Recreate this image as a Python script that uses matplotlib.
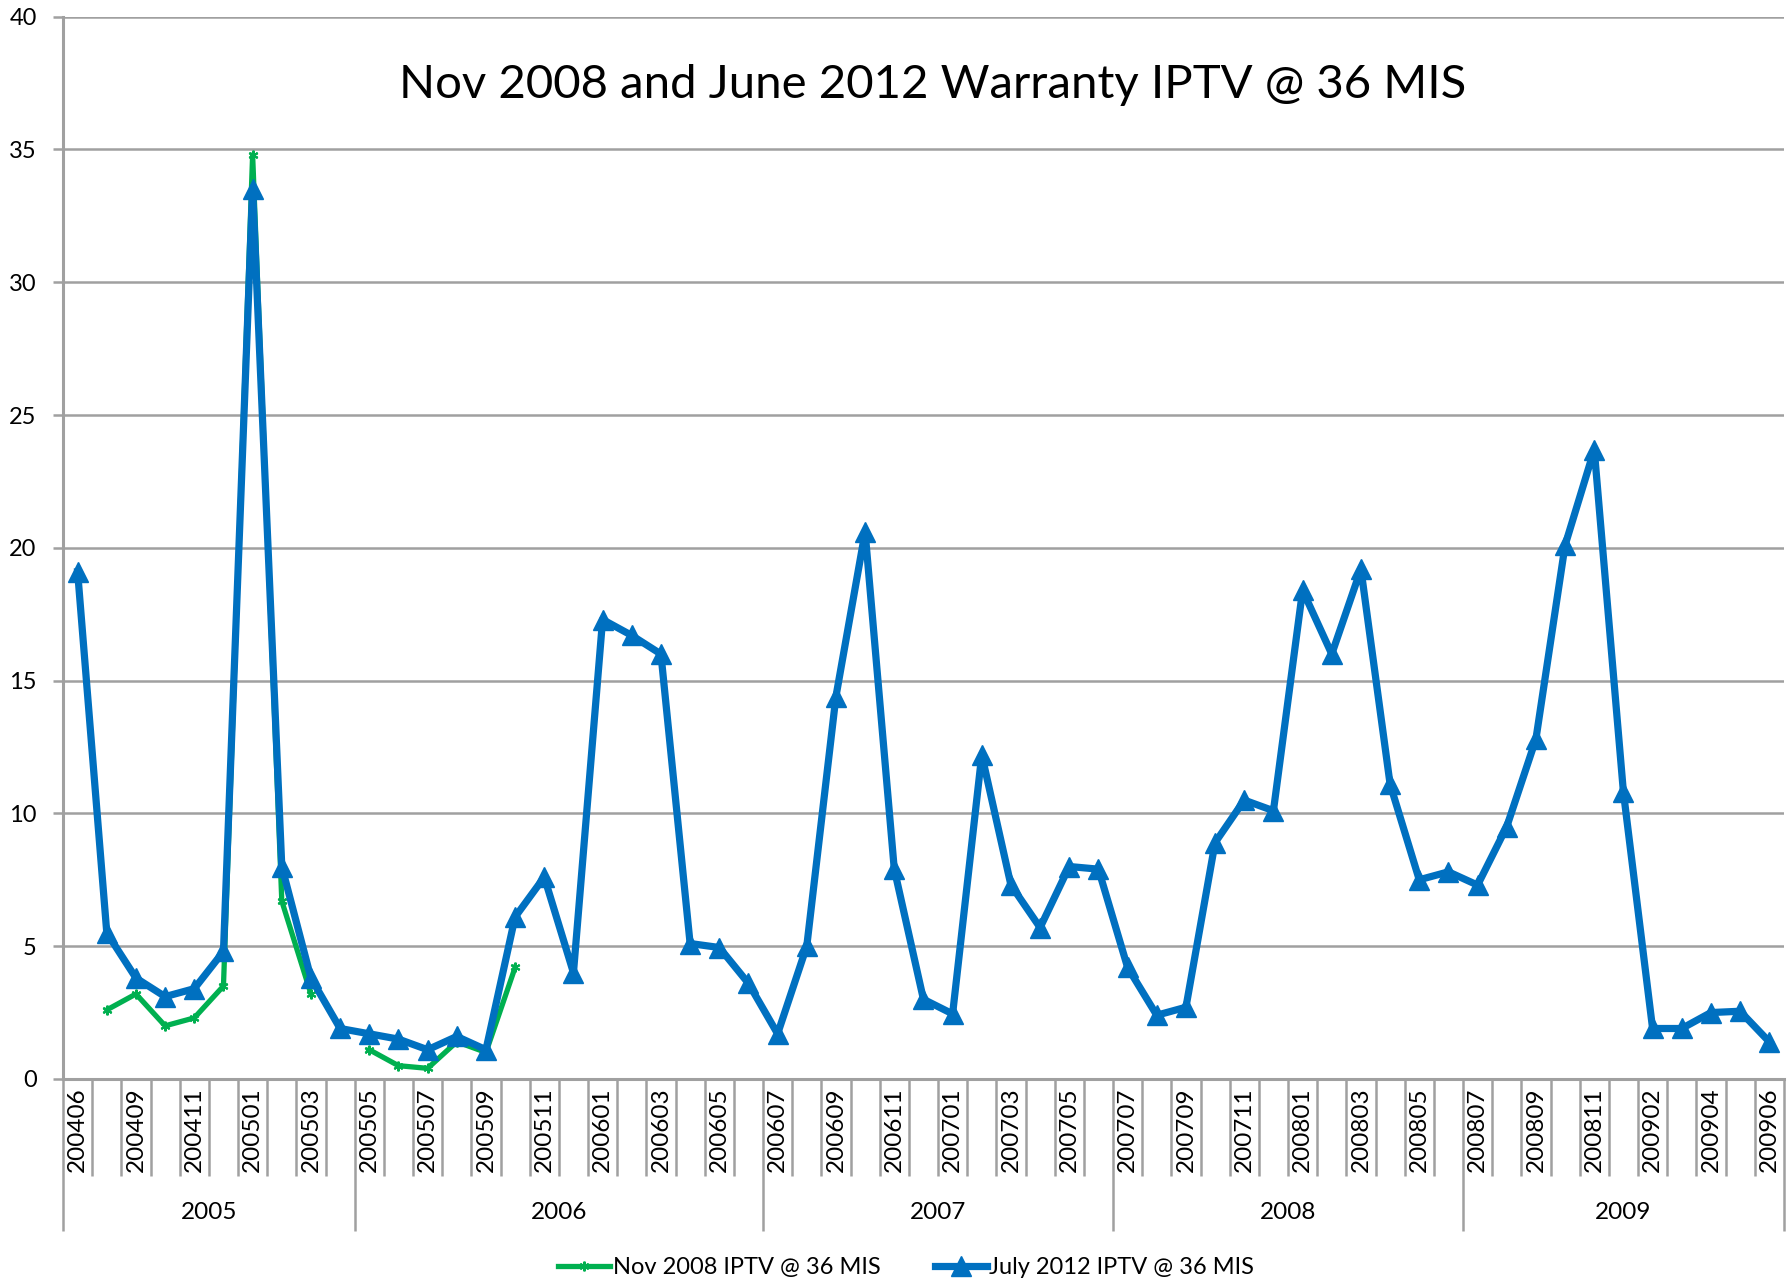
import numpy as np
import matplotlib
matplotlib.use("Agg")
import matplotlib.pyplot as plt
from matplotlib.transforms import blended_transform_factory

plt.rcParams["font.family"] = ["Lato", "DejaVu Sans"]

# ---------------------------------------------------------------------------
# Data
# ---------------------------------------------------------------------------
months = [
    "200406", "200408", "200409", "200410", "200411", "200412",
    "200501", "200502", "200503", "200504", "200505", "200506",
    "200507", "200508", "200509", "200510", "200511", "200512",
    "200601", "200602", "200603", "200604", "200605", "200606",
    "200607", "200608", "200609", "200610", "200611", "200612",
    "200701", "200702", "200703", "200704", "200705", "200706",
    "200707", "200708", "200709", "200710", "200711", "200712",
    "200801", "200802", "200803", "200804", "200805", "200806",
    "200807", "200808", "200809", "200810", "200811", "200901",
    "200902", "200903", "200904", "200905", "200906",
]
# only every other month is printed on the axis
shown_labels = [m if i % 2 == 0 else "" for i, m in enumerate(months)]

# fiscal-year groups under the month labels (number of months in each)
year_groups = ["2005", "2006", "2007", "2008", "2009"]
year_sizes = [10, 14, 12, 12, 11]

july2012 = [
    19.1, 5.5, 3.8, 3.1, 3.4, 4.8, 33.5, 8.0, 3.8, 1.9,
    1.7, 1.5, 1.1, 1.6, 1.1, 6.1, 7.6, 4.0, 17.3, 16.7,
    16.0, 5.1, 4.95, 3.6, 1.7, 5.0, 14.4, 20.6, 7.9, 3.0,
    2.45, 12.2, 7.3, 5.7, 8.0, 7.9, 4.2, 2.4, 2.7, 8.9,
    10.5, 10.1, 18.4, 16.0, 19.2, 11.1, 7.5, 7.8, 7.3, 9.5,
    12.8, 20.1, 23.7, 10.8, 1.9, 1.9, 2.5, 2.55, 1.4,
]
nan = np.nan
nov2008 = [
    nan, 2.6, 3.2, 2.0, 2.3, 3.5, 34.8, 6.7, 3.2, nan,
    1.1, 0.5, 0.4, 1.4, 1.0, 4.2,
] + [nan] * (len(months) - 16)

title = "Nov 2008 and June 2012 Warranty IPTV @ 36 MIS"
green_label = "Nov 2008 IPTV @ 36 MIS"
blue_label = "July 2012 IPTV @ 36 MIS"

GREEN = "#00B050"
BLUE = "#0070C0"
GRID = "#A0A0A0"

# ---------------------------------------------------------------------------
# Plot
# ---------------------------------------------------------------------------
fig = plt.figure(figsize=(17.91, 12.86), dpi=100)
ax = fig.add_axes([0.0352, 0.161, 0.9608, 0.826])

x = np.arange(len(months))
ax.plot(x, nov2008, color=GREEN, lw=3.8, marker=(6, 2, 0), ms=7, mew=1.5,
        label=green_label, zorder=3)
ax.plot(x, july2012, color=BLUE, lw=5.2, marker="^", ms=15,
        label=blue_label, zorder=4)

ax.set_xlim(-0.5, len(months) - 0.5)
ax.set_ylim(0, 40)
ax.set_yticks(np.arange(0, 41, 5))
ax.yaxis.grid(True, color=GRID, lw=1.8)
ax.set_axisbelow(True)

for side in ("top", "right"):
    ax.spines[side].set_visible(False)
for side in ("left", "bottom"):
    ax.spines[side].set_color(GRID)
    ax.spines[side].set_linewidth(2.2)

ax.tick_params(axis="y", direction="out", length=7, width=1.8, color=GRID,
               pad=12, labelsize=17)

# month labels at category centres, tick lines between categories
ax.set_xticks(x)
ax.set_xticklabels(shown_labels, rotation=90, fontsize=17.5)
ax.tick_params(axis="x", which="major", length=0, pad=6)
bounds = np.cumsum([0] + year_sizes) - 0.5
inner = [b for b in np.arange(0.5, len(months) - 0.5) if b not in bounds]
ax.set_xticks(inner, minor=True)
ax.tick_params(axis="x", which="minor", direction="out", length=70,
               width=1.8, color=GRID)

# year group separators and labels
trans = blended_transform_factory(ax.transData, ax.transAxes)
ax.vlines(bounds, -0.143, 0, transform=trans, colors=GRID, lw=1.8,
          clip_on=False)
for i, name in enumerate(year_groups):
    mid = (bounds[i] + bounds[i + 1]) / 2
    ax.text(mid, -0.126, name, transform=trans, ha="center", va="center",
            fontsize=17.5)

ax.text(0.5055, 0.936, title, transform=ax.transAxes, ha="center",
        va="center", fontsize=34)

fig.legend(loc="center", bbox_to_anchor=(0.506, 0.014), ncol=2,
           frameon=False, fontsize=17, handlelength=2.2, columnspacing=2.3,
           handletextpad=0.1)

fig.savefig("out.png", dpi=100)
